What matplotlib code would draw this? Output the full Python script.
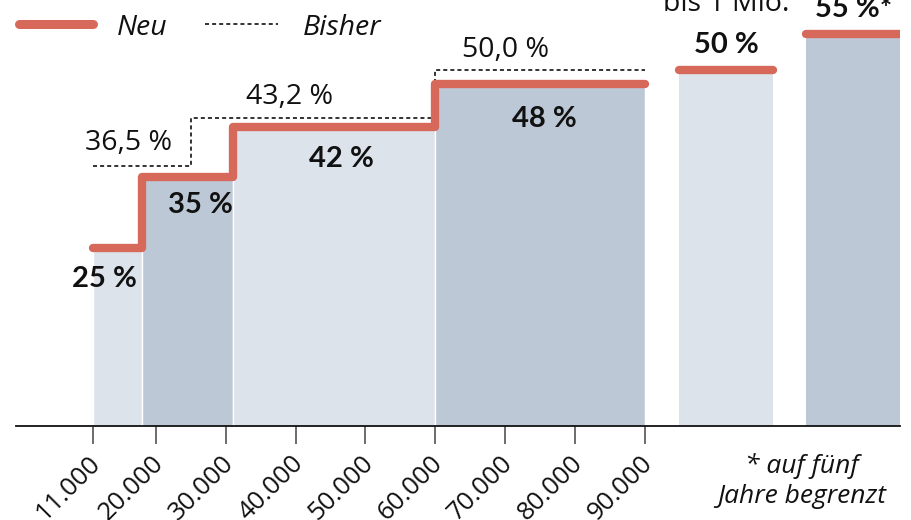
import matplotlib
matplotlib.use("Agg")
import matplotlib.pyplot as plt
from matplotlib.lines import Line2D
from matplotlib.transforms import ScaledTranslation
import numpy as np

plt.rcParams['font.family'] = ['Open Sans', 'DejaVu Sans']
plt.rcParams['lines.scale_dashes'] = False

# ---- data ----
new_edges = [11000, 18000, 31000, 60000, 90000]
new_rates = [25, 35, 42, 48]
old_edges = [11000, 25000, 60000, 90000]
old_rates = [36.5, 43.2, 50.0]
extra_rates = [50, 55]
extra_labels = ["50 %", "55 %*"]
extra_note = "bis 1 Mio."
new_labels = ["25 %", "35 %", "42 %", "48 %"]
old_labels = ["36,5 %", "43,2 %", "50,0 %"]
tick_values = [11000, 20000, 30000, 40000, 50000, 60000, 70000, 80000, 90000]
tick_labels = ["11.000", "20.000", "30.000", "40.000", "50.000",
               "60.000", "70.000", "80.000", "90.000"]
legend_labels = ["Neu", "Bisher"]
footnote = "* auf fünf\nJahre begrenzt"

# ---- layout / style ----
RED = "#D6695A"
LIGHT = "#DCE3EB"
DARK = "#BCC8D5"
TXT = "#111111"
extra_pos = [101600, 119800]
extra_width = 13400
new_label_x = [12700, 26450, 46500, 75550]
new_label_base = [19.5, 29.9, 36.4, 42.0]
old_label_x = [16150, 39200, 70100]
old_label_base = [38.8, 45.2, 51.8]
extra_label_base = [52.4, 57.4]
BOLD = dict(fontsize=21, fontweight='bold', family=['Lato', 'DejaVu Sans'],
            color=TXT)

fig = plt.figure(figsize=(9.12, 5.2), dpi=100)
ax = fig.add_axes([16/912, 94/520, 884/912, 426/520])
ax.set_xlim(0, 126500)
ax.set_ylim(0, 426/7.12)

# bars
widths = np.diff(new_edges)
cols = [LIGHT, DARK, LIGHT, DARK]
ax.bar(new_edges[:-1], new_rates, width=widths, align='edge', color=cols,
       edgecolor='white', linewidth=1.0, zorder=1)
ax.bar(extra_pos, extra_rates, width=extra_width, align='center',
       color=[LIGHT, DARK], linewidth=0, zorder=1)

# old (dashed)
ax.step(old_edges, old_rates + [old_rates[-1]], where='post', color=TXT,
        lw=1.2, dashes=(2.9, 2.2), zorder=2)
# new (red)
ax.step(new_edges, new_rates + [new_rates[-1]], where='post', color=RED,
        lw=6, solid_capstyle='round', solid_joinstyle='round', zorder=3)
for p, r in zip(extra_pos, extra_rates):
    ax.plot([p - extra_width/2, p + extra_width/2], [r, r], color=RED, lw=6,
            solid_capstyle='round', zorder=3)

# labels
for x, b, t in zip(new_label_x, new_label_base, new_labels):
    ax.text(x, b, t, ha='center', va='baseline', zorder=4, **BOLD)
for x, b, t in zip(old_label_x, old_label_base, old_labels):
    ax.text(x, b, t, ha='center', va='baseline', fontsize=20.5,
            color=TXT, zorder=4)
ax.text(extra_pos[0], extra_label_base[0], extra_labels[0], ha='center',
        va='baseline', **BOLD)
ax.text(extra_pos[1], extra_label_base[1], extra_labels[1], ha='center',
        va='baseline', clip_on=False, **BOLD)
ax.text(extra_pos[0], 58.3, extra_note, ha='center', va='baseline',
        fontsize=20.5, color=TXT, clip_on=False)

# axes styling
for s in ['top', 'right', 'left']:
    ax.spines[s].set_visible(False)
ax.spines['bottom'].set_linewidth(1.3)
ax.spines['bottom'].set_color(TXT)
ax.set_yticks([])
ax.set_xticks(tick_values)
ax.set_xticklabels(tick_labels, rotation=45, ha='right', va='center',
                   rotation_mode='anchor', fontsize=18.5, color=TXT)
ax.tick_params(axis='x', direction='out', length=13, width=1.1,
               color='#444444', pad=11)
shift = ScaledTranslation(4/100, 0, fig.dpi_scale_trans)
for lab in ax.get_xticklabels():
    lab.set_transform(lab.get_transform() + shift)

# legend (manual)
fig.add_artist(Line2D([19/912, 93/912], [1 - 24/520, 1 - 24/520], color=RED,
                      lw=6.5, solid_capstyle='round'))
fig.text(117/912, 1 - 35/520, legend_labels[0], fontsize=20.5, style='italic',
         ha='left', va='baseline', color=TXT)
fig.add_artist(Line2D([205/912, 278/912], [1 - 24/520, 1 - 24/520],
                      color=TXT, lw=1.2, dashes=(2.9, 2.2)))
fig.text(303/912, 1 - 35/520, legend_labels[1], fontsize=20.5, style='italic',
         ha='left', va='baseline', color=TXT)

# footnote
fig.text(802/912, 1 - 481/520, footnote, fontsize=19, style='italic',
         ha='center', va='center', color=TXT, linespacing=1.3)

fig.savefig("out.png", dpi=100)
